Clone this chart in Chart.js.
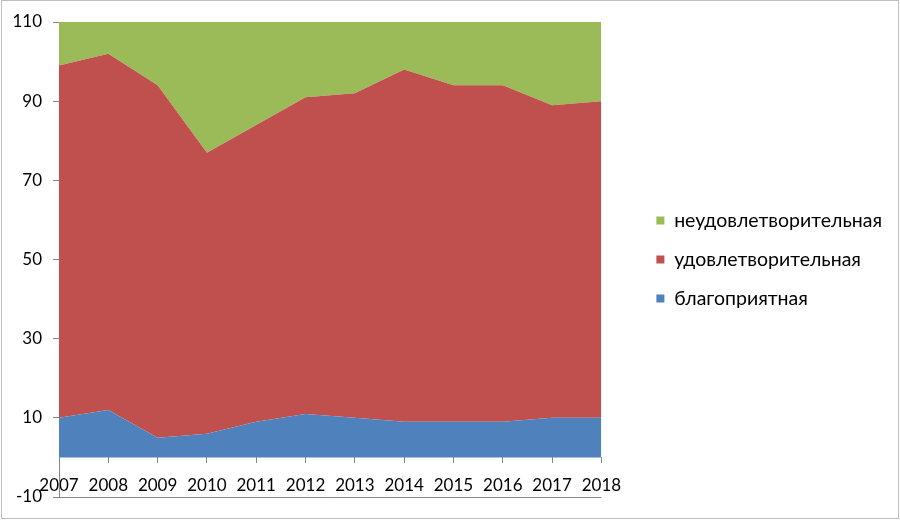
<!DOCTYPE html>
<html>
<head>
<meta charset="utf-8">
<script src="https://cdn.jsdelivr.net/npm/chart.js@4.4.1/dist/chart.umd.min.js"></script>
<style>
  html, body { margin: 0; padding: 0; background: #ffffff; overflow: hidden; }
  #wrap { width: 900px; height: 520px; }
</style>
</head>
<body>
<div id="wrap"><canvas id="c" width="900" height="520"></canvas></div>
<script>
const years = ['2007','2008','2009','2010','2011','2012','2013','2014','2015','2016','2017','2018'];
const favorable = [10, 12, 5, 6, 9, 11, 10, 9, 9, 9, 10, 10];
const satisfactory = [89, 90, 89, 71, 75, 80, 82, 89, 85, 85, 79, 80];
const unsatisfactory = [11, 8, 16, 33, 26, 19, 18, 12, 16, 16, 21, 20];
const yTickValues = [-10, 10, 30, 50, 70, 90, 110];
const seriesNames = ['благоприятная', 'удовлетворительная', 'неудовлетворительная'];

const FONT = 'Lato, "Open Sans", "DejaVu Sans", sans-serif';
const AXIS_GRAY = '#868686';

const frame = {
  id: 'frame',
  beforeDraw(chart) {
    const ctx = chart.ctx;
    ctx.save();
    ctx.fillStyle = '#ffffff';
    ctx.fillRect(0, 0, chart.width, chart.height);
    ctx.strokeStyle = '#bdbdbd';
    ctx.lineWidth = 1;
    ctx.strokeRect(1.5, 0.5, 897, 518);
    ctx.restore();
  }
};

new Chart(document.getElementById('c'), {
  type: 'line',
  data: {
    labels: years,
    datasets: [
      { label: seriesNames[0], data: favorable, backgroundColor: '#4F81BD', borderColor: '#4F81BD', fill: 'origin' },
      { label: seriesNames[1], data: satisfactory, backgroundColor: '#C0504D', borderColor: '#C0504D', fill: '-1' },
      { label: seriesNames[2], data: unsatisfactory, backgroundColor: '#9BBB59', borderColor: '#9BBB59', fill: '-1' }
    ]
  },
  options: {
    responsive: false,
    devicePixelRatio: 1,
    animation: false,
    elements: {
      point: { radius: 0, hoverRadius: 0 },
      line: { borderWidth: 0, tension: 0 }
    },
    layout: { padding: { left: 13, right: 8, top: 22, bottom: 23 } },
    plugins: {
      tooltip: { enabled: false },
      legend: {
        position: 'right',
        align: 'center',
        reverse: true,
        maxWidth: 320,
        labels: {
          boxWidth: 8,
          boxHeight: 8,
          padding: 19.5,
          color: '#000000',
          font: { family: FONT, size: 19.5 }
        }
      }
    },
    scales: {
      x: {
        type: 'category',
        offset: false,
        position: { y: 0 },
        grid: { drawOnChartArea: false, drawTicks: true, tickLength: 6, tickColor: AXIS_GRAY },
        border: { display: false },
        ticks: { color: '#000000', font: { family: FONT, size: 17 }, padding: 12, maxRotation: 0, autoSkip: false }
      },
      y: {
        stacked: true,
        min: -10,
        max: 110,
        afterBuildTicks: (s) => { s.ticks = yTickValues.map(v => ({ value: v })); },
        afterFit: (s) => { s.width = 46; },
        grid: {
          color: (ctx) => (ctx.tick && ctx.tick.value === -10) ? AXIS_GRAY : 'rgba(0,0,0,0)',
          drawTicks: true,
          tickLength: 6,
          tickColor: AXIS_GRAY
        },
        border: { display: true, color: AXIS_GRAY },
        ticks: { color: '#000000', font: { family: FONT, size: 17 }, padding: 11 }
      },
      gap: {
        type: 'linear',
        position: 'right',
        display: true,
        grid: { display: false },
        border: { display: false },
        ticks: { display: false },
        afterFit: (s) => { s.width = 35.5; }
      }
    }
  },
  plugins: [frame]
});
</script>
</body>
</html>
